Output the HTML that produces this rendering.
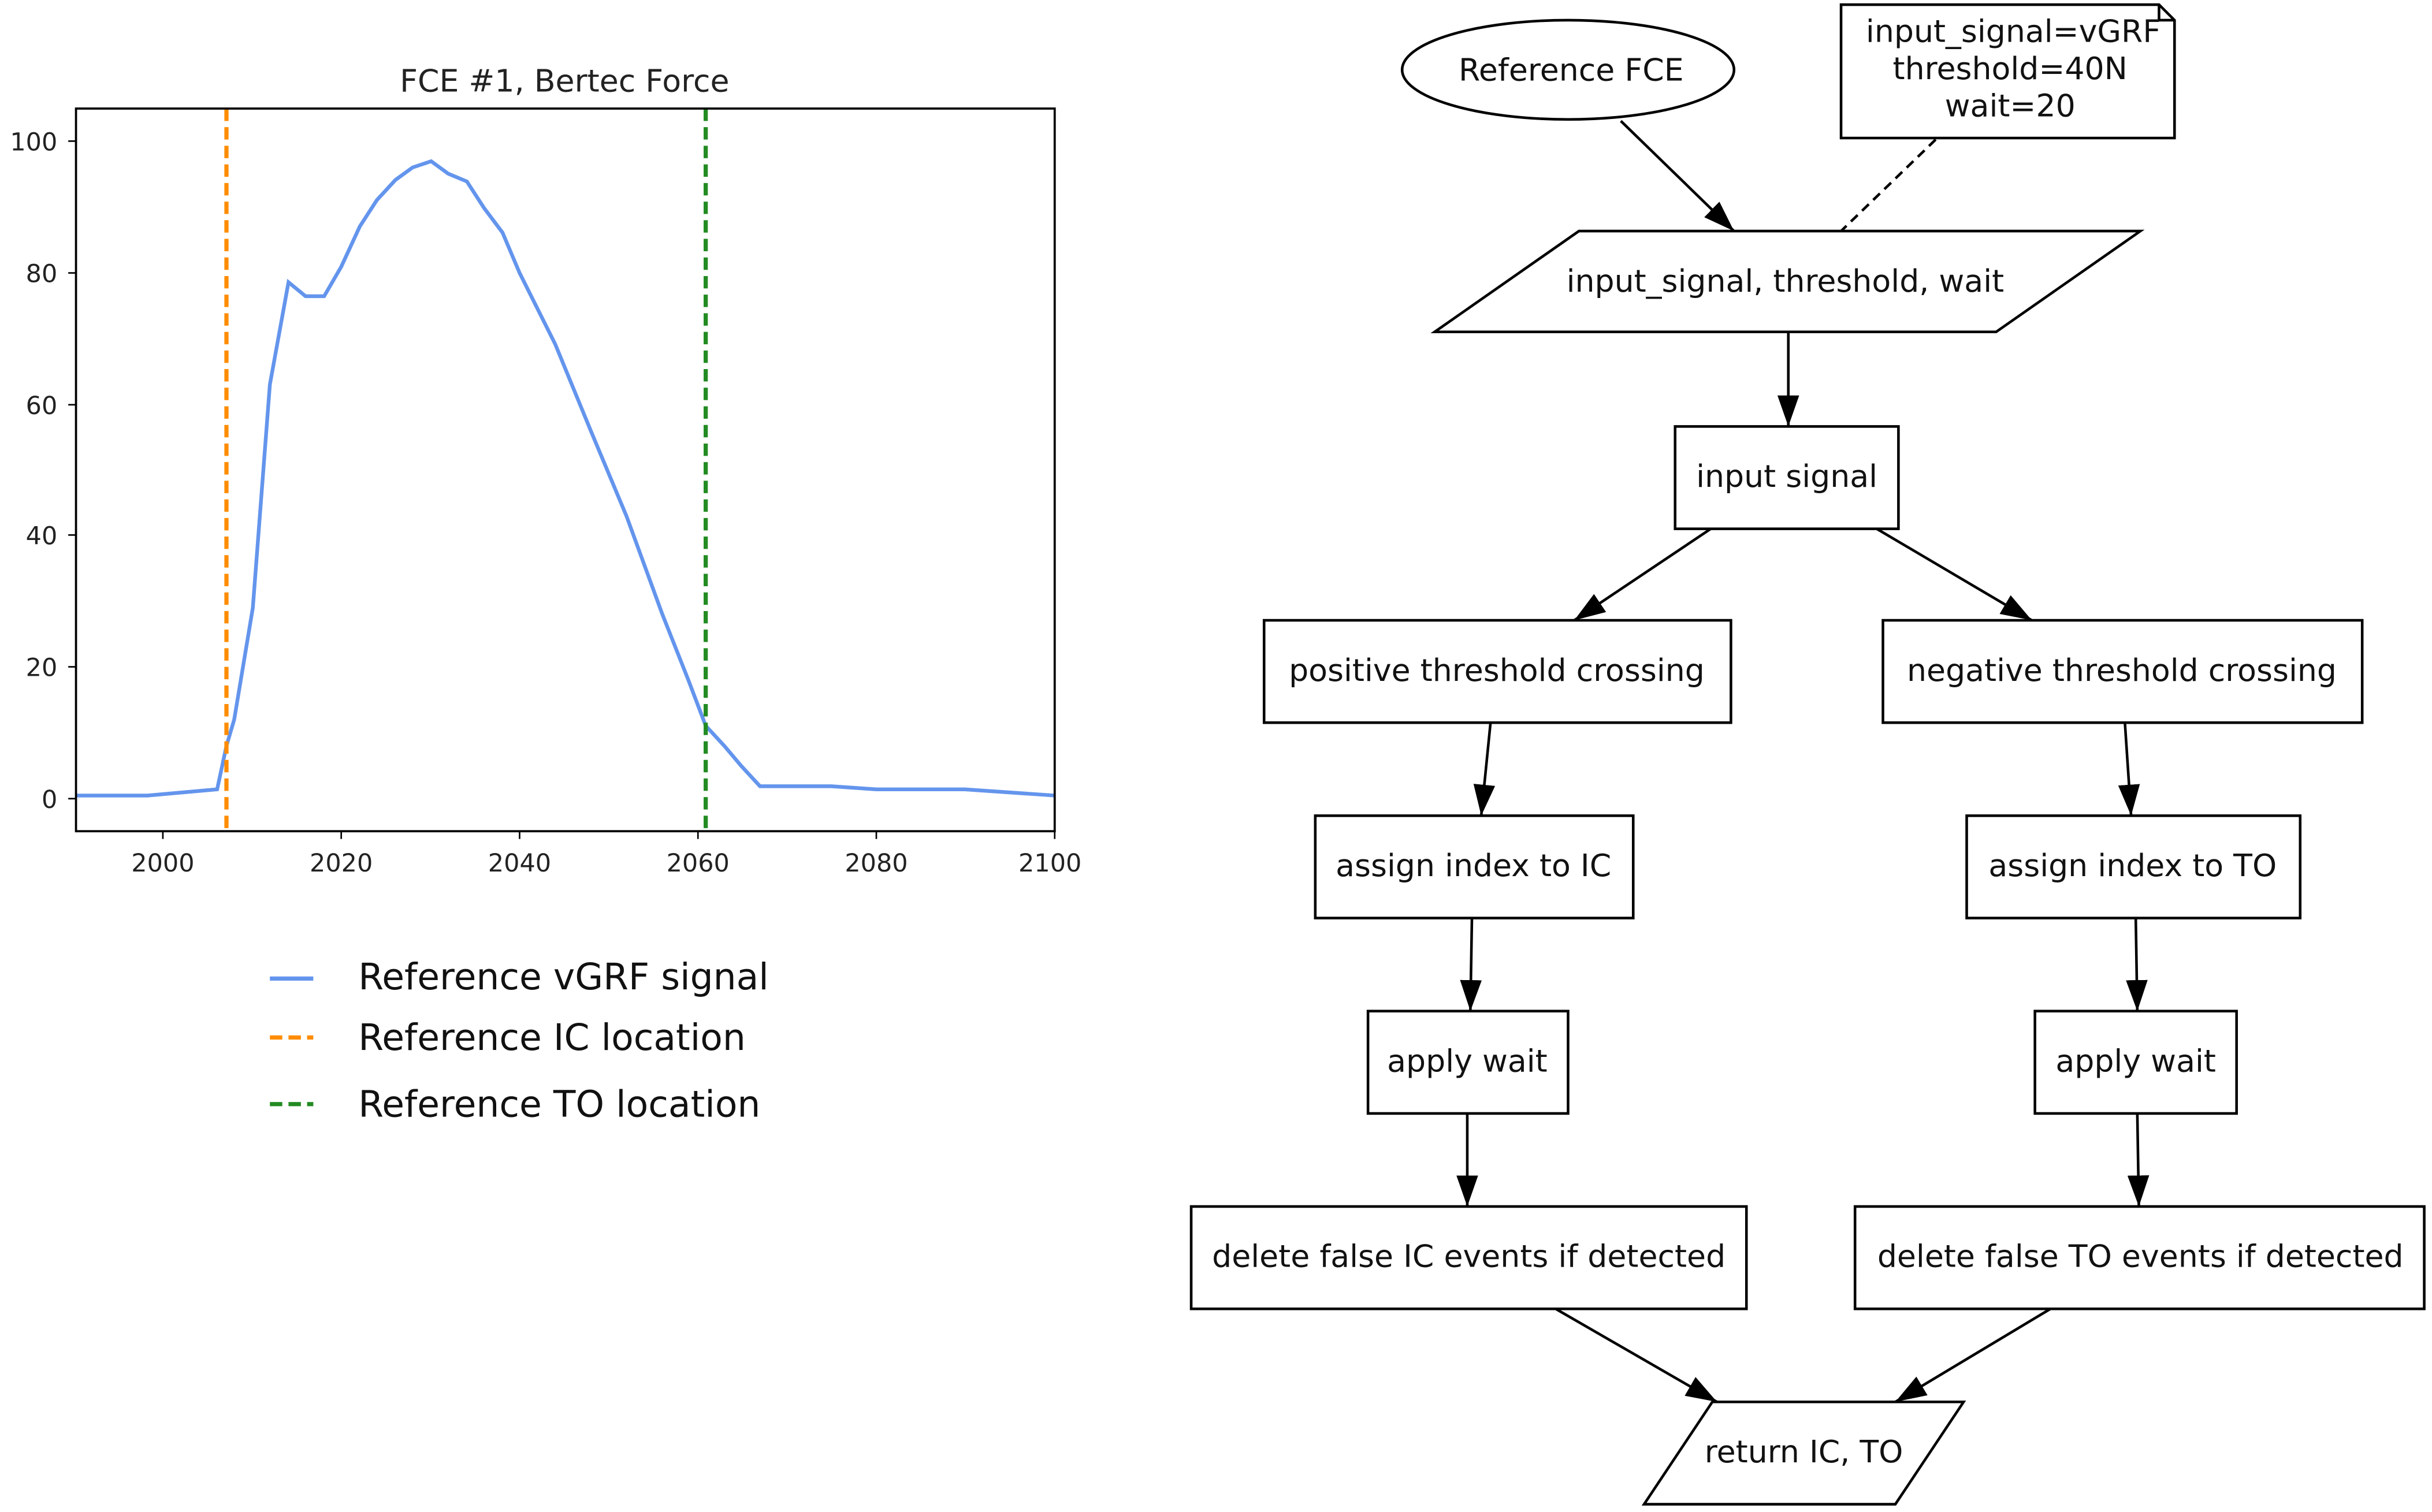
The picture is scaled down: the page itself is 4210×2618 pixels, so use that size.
<!DOCTYPE html>
<html><head><meta charset="utf-8"><style>html,body{margin:0;padding:0;background:#fff}svg{display:block}</style></head>
<body>
<svg width="4210" height="2618" viewBox="0 0 1568 975" preserveAspectRatio="none" xmlns="http://www.w3.org/2000/svg" font-family="DejaVu Sans, Liberation Sans, sans-serif">
<defs>
<marker id="b" viewBox="0 0 10 10" refX="10" refY="5" markerWidth="20" markerHeight="20" markerUnits="userSpaceOnUse" orient="auto"><path d="M0,1.5 L10,5 L0,8.5 z" fill="#000"/></marker></defs>
<!-- plot -->
<text x="364" y="59" font-size="20" text-anchor="middle" fill="#222">FCE #1, Bertec Force</text>
<polyline fill="none" stroke="#6495ed" stroke-width="2.4" points="49,513 95,513 140,509 146,481 151,464 163,392 174,248 186,182 197,191 209,191 220,172 232,146 243,129 255,116 266,108 278,104 289,112 301,117 312,134 324,150 335,176 358,222 381,278 404,333 427,396 444,439 455,468 467,481 478,494 490,507 507,507 536,507 565,509 622,509 680,513"/>
<line x1="146" y1="70" x2="146" y2="536" stroke="#ff8c00" stroke-width="2.7" stroke-dasharray="8,4"/>
<line x1="455" y1="70" x2="455" y2="536" stroke="#228b22" stroke-width="2.7" stroke-dasharray="8,4"/>
<rect x="49" y="70" width="631" height="466" fill="none" stroke="#000" stroke-width="1.4"/>
<g font-size="16" fill="#222" text-anchor="end">
<text x="37" y="97">100</text><text x="37" y="182">80</text><text x="37" y="267">60</text><text x="37" y="351">40</text><text x="37" y="436">20</text><text x="37" y="521">0</text></g>
<g stroke="#000"><line x1="44" y1="91" x2="49" y2="91"/><line x1="44" y1="176" x2="49" y2="176"/><line x1="44" y1="261" x2="49" y2="261"/><line x1="44" y1="345" x2="49" y2="345"/><line x1="44" y1="430" x2="49" y2="430"/><line x1="44" y1="515" x2="49" y2="515"/>
<line x1="105" y1="536" x2="105" y2="541"/><line x1="220" y1="536" x2="220" y2="541"/><line x1="335" y1="536" x2="335" y2="541"/><line x1="450" y1="536" x2="450" y2="541"/><line x1="565" y1="536" x2="565" y2="541"/><line x1="680" y1="536" x2="680" y2="541"/></g>
<g font-size="16" fill="#222" text-anchor="middle"><text x="105" y="562">2000</text><text x="220" y="562">2020</text><text x="335" y="562">2040</text><text x="450" y="562">2060</text><text x="565" y="562">2080</text><text x="677" y="562">2100</text></g>
<line x1="174" y1="631" x2="202" y2="631" stroke="#6495ed" stroke-width="2.7"/>
<line x1="174" y1="669" x2="202" y2="669" stroke="#ff8c00" stroke-width="2.7" stroke-dasharray="8,4"/>
<line x1="174" y1="712" x2="202" y2="712" stroke="#228b22" stroke-width="2.7" stroke-dasharray="8,4"/>
<g font-size="23.5" fill="#111"><text x="231" y="638">Reference vGRF signal</text><text x="231" y="677">Reference IC location</text><text x="231" y="720">Reference TO location</text></g>
<!-- flowchart -->
<g fill="none" stroke="#000" stroke-width="1.7">
<ellipse cx="1011" cy="45" rx="107" ry="32"/>
<path d="M1187,3 H1392 L1402,13 V89 H1187 Z M1392,3 V13 H1402"/>
<polygon points="1018,149 1380,149 1287,214 925,214"/>
<rect x="1080" y="275" width="144" height="66"/>
<rect x="815" y="400" width="301" height="66"/>
<rect x="1214" y="400" width="309" height="66"/>
<rect x="848" y="526" width="205" height="66"/>
<rect x="1268" y="526" width="215" height="66"/>
<rect x="882" y="652" width="129" height="66"/>
<rect x="1312" y="652" width="130" height="66"/>
<rect x="768" y="778" width="358" height="66"/>
<rect x="1196" y="778" width="367" height="66"/>
<polygon points="1104,904 1266,904 1222,970 1060,970"/>
<line x1="1248" y1="90" x2="1187" y2="149" stroke-dasharray="6,4"/>
</g>
<g stroke="#000" stroke-width="1.7" marker-end="url(#b)">
<line x1="1045" y1="78" x2="1118" y2="149"/>
<line x1="1153" y1="214" x2="1153" y2="275"/>
<line x1="1103" y1="341" x2="1015" y2="400"/>
<line x1="1210" y1="341" x2="1310" y2="400"/>
<line x1="961" y1="466" x2="955" y2="526"/>
<line x1="1370" y1="466" x2="1374" y2="526"/>
<line x1="949" y1="592" x2="948" y2="652"/>
<line x1="1377" y1="592" x2="1378" y2="652"/>
<line x1="946" y1="718" x2="946" y2="778"/>
<line x1="1378" y1="718" x2="1379" y2="778"/>
<line x1="1003" y1="844" x2="1107" y2="904"/>
<line x1="1322" y1="844" x2="1222" y2="904"/>
</g>
<g font-size="20" fill="#111" text-anchor="middle">
<text x="1013" y="52">Reference FCE</text>
<text x="1298" y="27">input_signal=vGRF</text><text x="1296" y="51">threshold=40N</text><text x="1296" y="75">wait=20</text>
<text x="1151" y="188">input_signal, threshold, wait</text>
<text x="1152" y="314">input signal</text>
<text x="965" y="439">positive threshold crossing</text>
<text x="1368" y="439">negative threshold crossing</text>
<text x="950" y="565">assign index to IC</text>
<text x="1375" y="565">assign index to TO</text>
<text x="946" y="691">apply wait</text>
<text x="1377" y="691">apply wait</text>
<text x="947" y="817">delete false IC events if detected</text>
<text x="1380" y="817">delete false TO events if detected</text>
<text x="1163" y="943">return IC, TO</text>
</g>
</svg>
</body></html>
